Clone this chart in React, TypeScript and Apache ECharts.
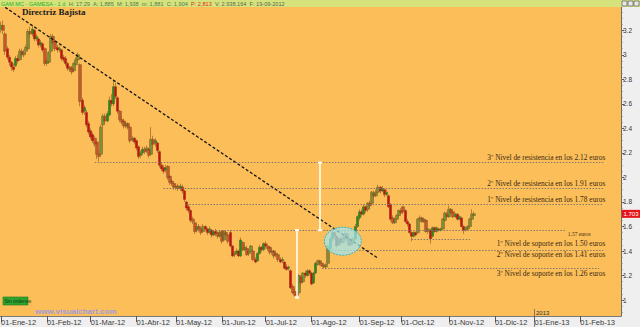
import React, { useEffect, useRef } from 'react';
import * as echarts from 'echarts';

// ---------- data ----------
const MONTHS = ['Ene', 'Feb', 'Mar', 'Abr', 'May', 'Jun', 'Jul', 'Ago', 'Sep', 'Oct', 'Nov', 'Dic'];
const HOLIDAYS = ['2012-04-06', '2012-04-09', '2012-05-01', '2012-12-25', '2012-12-26', '2013-01-01'];
const FIRST_DAY = '2012-01-02';
const LAST_DAY = '2013-02-28';

// daily candles [open, close, low, high]
const candles: number[][] = [
  [3.21, 3.24, 3.18, 3.27], [3.24, 3.20, 3.17, 3.28], [3.17, 3.03, 3.00, 3.19], [3.05, 2.98, 2.96, 3.07],
  [2.98, 2.94, 2.91, 3.00], [2.94, 2.90, 2.87, 2.95], [2.90, 2.88, 2.86, 2.93], [2.91, 2.97, 2.90, 2.99],
  [2.97, 2.95, 2.93, 3.00], [2.96, 3.03, 2.95, 3.05], [3.03, 3.00, 2.98, 3.05], [3.00, 3.02, 2.98, 3.04],
  [3.03, 3.06, 3.01, 3.08], [3.05, 3.19, 3.04, 3.21], [3.19, 3.17, 3.14, 3.23], [3.17, 3.21, 3.15, 3.24],
  [3.20, 3.13, 3.11, 3.21], [3.13, 3.15, 3.11, 3.17], [3.13, 3.08, 3.06, 3.14], [3.08, 3.10, 3.06, 3.12],
  [3.09, 3.04, 3.02, 3.10], [3.05, 2.93, 2.91, 3.06], [2.93, 2.95, 2.91, 2.97], [2.94, 3.02, 2.93, 3.03],
  [3.03, 3.15, 3.02, 3.17], [3.15, 3.10, 3.08, 3.17], [3.11, 3.05, 3.03, 3.12], [3.06, 3.04, 3.02, 3.08],
  [3.04, 3.05, 3.02, 3.07], [3.04, 2.97, 2.95, 3.05], [2.98, 2.96, 2.94, 3.00], [2.97, 2.93, 2.91, 2.99],
  [2.93, 2.89, 2.87, 2.94], [2.90, 2.88, 2.86, 2.91], [2.89, 2.86, 2.84, 2.91], [2.87, 2.93, 2.86, 2.94],
  [2.92, 2.96, 2.91, 2.98], [2.96, 3.00, 2.94, 3.02], [2.92, 2.62, 2.58, 2.93], [2.63, 2.53, 2.51, 2.65],
  [2.54, 2.57, 2.51, 2.59], [2.53, 2.43, 2.41, 2.55], [2.44, 2.37, 2.35, 2.46], [2.38, 2.33, 2.31, 2.40],
  [2.35, 2.30, 2.28, 2.37], [2.32, 2.27, 2.25, 2.34], [2.29, 2.19, 2.15, 2.30], [2.19, 2.17, 2.13, 2.22],
  [2.19, 2.41, 2.18, 2.43], [2.43, 2.50, 2.41, 2.52], [2.50, 2.46, 2.44, 2.52], [2.46, 2.52, 2.45, 2.54],
  [2.51, 2.63, 2.50, 2.66], [2.63, 2.60, 2.58, 2.68], [2.60, 2.74, 2.58, 2.80], [2.74, 2.66, 2.64, 2.77],
  [2.65, 2.54, 2.52, 2.66], [2.54, 2.47, 2.45, 2.55], [2.47, 2.45, 2.43, 2.50], [2.46, 2.42, 2.40, 2.48],
  [2.42, 2.44, 2.40, 2.46], [2.44, 2.41, 2.39, 2.45], [2.41, 2.30, 2.28, 2.42], [2.31, 2.32, 2.29, 2.34],
  [2.32, 2.29, 2.27, 2.33], [2.30, 2.24, 2.22, 2.31], [2.25, 2.17, 2.15, 2.26], [2.18, 2.20, 2.16, 2.22],
  [2.20, 2.23, 2.18, 2.25], [2.23, 2.21, 2.19, 2.25], [2.22, 2.24, 2.20, 2.26], [2.23, 2.18, 2.16, 2.24],
  [2.19, 2.31, 2.18, 2.41], [2.31, 2.27, 2.24, 2.34], [2.28, 2.30, 2.25, 2.32], [2.28, 2.22, 2.20, 2.29],
  [2.21, 2.10, 2.08, 2.22], [2.10, 2.07, 2.05, 2.12], [2.08, 2.05, 2.03, 2.10], [2.06, 2.08, 2.04, 2.10],
  [2.09, 2.00, 1.98, 2.10], [2.01, 1.96, 1.94, 2.02], [1.97, 1.95, 1.93, 1.99], [1.95, 1.92, 1.90, 1.96],
  [1.92, 1.93, 1.90, 1.95], [1.93, 1.91, 1.89, 1.95], [1.91, 1.93, 1.89, 1.95], [1.92, 1.89, 1.87, 1.94],
  [1.89, 1.82, 1.80, 1.90], [1.80, 1.75, 1.73, 1.81], [1.76, 1.73, 1.71, 1.78], [1.73, 1.65, 1.63, 1.74],
  [1.66, 1.64, 1.62, 1.68], [1.63, 1.56, 1.54, 1.64], [1.57, 1.60, 1.55, 1.62], [1.60, 1.58, 1.56, 1.62],
  [1.58, 1.55, 1.53, 1.59], [1.56, 1.60, 1.55, 1.62], [1.60, 1.58, 1.56, 1.61], [1.58, 1.55, 1.53, 1.59],
  [1.55, 1.58, 1.54, 1.60], [1.57, 1.53, 1.51, 1.58], [1.53, 1.56, 1.52, 1.57], [1.56, 1.54, 1.52, 1.58],
  [1.55, 1.52, 1.50, 1.56], [1.52, 1.55, 1.51, 1.57], [1.56, 1.48, 1.46, 1.57], [1.49, 1.56, 1.48, 1.57],
  [1.55, 1.53, 1.51, 1.57], [1.53, 1.48, 1.46, 1.54], [1.55, 1.44, 1.43, 1.57], [1.44, 1.36, 1.35, 1.45],
  [1.37, 1.38, 1.35, 1.40], [1.38, 1.40, 1.37, 1.42], [1.40, 1.36, 1.35, 1.41], [1.36, 1.49, 1.35, 1.51],
  [1.47, 1.41, 1.40, 1.48], [1.41, 1.43, 1.40, 1.45], [1.42, 1.37, 1.36, 1.44], [1.38, 1.40, 1.36, 1.42],
  [1.40, 1.44, 1.39, 1.45], [1.40, 1.33, 1.32, 1.41], [1.33, 1.31, 1.30, 1.35], [1.32, 1.38, 1.31, 1.39],
  [1.38, 1.43, 1.37, 1.45], [1.43, 1.41, 1.39, 1.44], [1.41, 1.46, 1.40, 1.47], [1.46, 1.44, 1.42, 1.48],
  [1.44, 1.42, 1.40, 1.46], [1.43, 1.39, 1.37, 1.44], [1.39, 1.40, 1.37, 1.42], [1.40, 1.36, 1.34, 1.41],
  [1.37, 1.38, 1.35, 1.40], [1.37, 1.33, 1.31, 1.38], [1.33, 1.31, 1.30, 1.35], [1.32, 1.33, 1.30, 1.35],
  [1.31, 1.26, 1.25, 1.32], [1.27, 1.25, 1.24, 1.29], [1.26, 1.27, 1.24, 1.28], [1.24, 1.10, 1.09, 1.25],
  [1.11, 1.06, 1.05, 1.13], [1.07, 1.04, 1.03, 1.09], [1.05, 1.04, 1.02, 1.07], [1.06, 1.20, 1.05, 1.21],
  [1.19, 1.14, 1.12, 1.20], [1.15, 1.22, 1.14, 1.23], [1.22, 1.20, 1.18, 1.24], [1.20, 1.24, 1.19, 1.25],
  [1.24, 1.22, 1.20, 1.25], [1.22, 1.13, 1.12, 1.23], [1.14, 1.22, 1.13, 1.23], [1.22, 1.30, 1.21, 1.31],
  [1.29, 1.32, 1.28, 1.33], [1.32, 1.30, 1.28, 1.33], [1.30, 1.28, 1.27, 1.31], [1.28, 1.27, 1.26, 1.29],
  [1.27, 1.29, 1.26, 1.30], [1.30, 1.44, 1.29, 1.45], [1.42, 1.50, 1.41, 1.52], [1.50, 1.55, 1.48, 1.57],
  [1.55, 1.52, 1.49, 1.56], [1.52, 1.44, 1.43, 1.53], [1.45, 1.50, 1.44, 1.51], [1.50, 1.47, 1.45, 1.52],
  [1.47, 1.50, 1.46, 1.52], [1.50, 1.54, 1.49, 1.56], [1.54, 1.50, 1.48, 1.55], [1.50, 1.45, 1.44, 1.51],
  [1.45, 1.47, 1.44, 1.49], [1.47, 1.50, 1.46, 1.51], [1.50, 1.60, 1.49, 1.62], [1.60, 1.68, 1.59, 1.69],
  [1.67, 1.72, 1.65, 1.74], [1.72, 1.70, 1.68, 1.74], [1.70, 1.76, 1.69, 1.78], [1.76, 1.73, 1.71, 1.77],
  [1.74, 1.79, 1.72, 1.80], [1.79, 1.77, 1.75, 1.81], [1.79, 1.88, 1.78, 1.89], [1.87, 1.85, 1.83, 1.89],
  [1.85, 1.88, 1.84, 1.90], [1.88, 1.92, 1.87, 1.94], [1.92, 1.89, 1.87, 1.93], [1.89, 1.91, 1.88, 1.93],
  [1.90, 1.86, 1.84, 1.91], [1.86, 1.88, 1.85, 1.90], [1.85, 1.76, 1.75, 1.86], [1.78, 1.66, 1.64, 1.79],
  [1.67, 1.63, 1.62, 1.69], [1.63, 1.66, 1.62, 1.67], [1.66, 1.69, 1.65, 1.70], [1.69, 1.73, 1.68, 1.74],
  [1.73, 1.71, 1.70, 1.75], [1.76, 1.72, 1.70, 1.77], [1.73, 1.64, 1.63, 1.74], [1.64, 1.62, 1.60, 1.66],
  [1.62, 1.55, 1.54, 1.63], [1.55, 1.52, 1.48, 1.56], [1.52, 1.55, 1.51, 1.56], [1.55, 1.53, 1.52, 1.56],
  [1.55, 1.66, 1.54, 1.67], [1.66, 1.67, 1.64, 1.69], [1.67, 1.64, 1.63, 1.68], [1.64, 1.66, 1.63, 1.67],
  [1.65, 1.56, 1.55, 1.66], [1.56, 1.58, 1.54, 1.59], [1.57, 1.50, 1.46, 1.58], [1.52, 1.59, 1.51, 1.60],
  [1.59, 1.56, 1.55, 1.60], [1.56, 1.59, 1.55, 1.60], [1.58, 1.57, 1.56, 1.59], [1.57, 1.58, 1.56, 1.59],
  [1.58, 1.66, 1.57, 1.67], [1.65, 1.71, 1.64, 1.72], [1.70, 1.68, 1.67, 1.72], [1.68, 1.74, 1.67, 1.77],
  [1.74, 1.71, 1.70, 1.75], [1.72, 1.68, 1.67, 1.73], [1.68, 1.70, 1.67, 1.71], [1.70, 1.66, 1.65, 1.71],
  [1.66, 1.68, 1.65, 1.69], [1.67, 1.60, 1.59, 1.68], [1.60, 1.57, 1.54, 1.61], [1.57, 1.59, 1.56, 1.60],
  [1.58, 1.60, 1.57, 1.61], [1.60, 1.66, 1.59, 1.67], [1.66, 1.70, 1.65, 1.74], [1.69, 1.703, 1.68, 1.72],
];

const yTickValues = [1, 1.2, 1.4, 1.6, 1.8, 2, 2.2, 2.4, 2.6, 2.8, 3, 3.2];

const levelValues = [2.12, 1.91, 1.78, 1.57, 1.5, 1.41, 1.26];
const levelStart = [45, 78, 89, 100, 197, 156, 154];
const levelEnd = [289, 289, 289, 271, 225, 289, 287];
const levelLabels = [
  '3º Nivel de resistencia en los 2.12 euros',
  '2º Nivel de resistencia en los 1.91 euros',
  '1º Nivel de resistencia en los 1.78 euros',
  '1.57 euros',
  '1º Nivel de soporte en los 1.50 euros',
  '2º Nivel de soporte en los 1.41 euros',
  '3º Nivel de soporte en los 1.26 euros',
];
const levelKind = ['res', 'res', 'res', 'small', 'sup', 'sup', 'sup'];

const trendStart: [number, number] = [2, 3.387];
const trendEnd: [number, number] = [181, 1.34];
const lowIdx = 142;
const lowValue = 1.02;
const necklineValue = 1.57;
const projIdx = 153;
const targetValue = 2.12;
const ellipseCenter: [number, number] = [164, 1.48];
const lastPrice = 1.703;

const headerParts = [
  { t: 'GAM.MC - GAMESA - 1 d', k: 'g' },
  { t: 'H: 17:29', k: 'n' },
  { t: 'A: 1,885', k: 'n' },
  { t: 'M: 1,938', k: 'n' },
  { t: 'm: 1,881', k: 'n' },
  { t: 'C: 1,904', k: 'n' },
  { t: 'P: 2,813', k: 'r' },
  { t: 'V: 2.938.164', k: 'd' },
  { t: 'F: 19-09-2012', k: 'd' },
];

// ---------- helpers ----------
function tradingDays(from: string, to: string): string[] {
  const out: string[] = [];
  const d = new Date(from + 'T00:00:00Z');
  const end = new Date(to + 'T00:00:00Z');
  while (d <= end) {
    const wd = d.getUTCDay();
    const s = d.toISOString().slice(0, 10);
    if (wd !== 0 && wd !== 6 && HOLIDAYS.indexOf(s) < 0) out.push(s);
    d.setUTCDate(d.getUTCDate() + 1);
  }
  return out;
}

const dates = tradingDays(FIRST_DAY, LAST_DAY);
const isMonthStart = (i: number) => i === 0 || (dates[i] && dates[i - 1] && dates[i].slice(5, 7) !== dates[i - 1].slice(5, 7));
const monthLabel = (s: string) => '01-' + MONTHS[parseInt(s.slice(5, 7), 10) - 1] + '-' + s.slice(2, 4);
const minorTicks: number[] = [];
for (let k = 18; k <= 67; k++) minorTicks.push(k * 0.05);

export default function App() {
  const ref = useRef<HTMLDivElement>(null);
  useEffect(() => {
    if (!ref.current) return;
    const chart = echarts.init(ref.current, null, { renderer: 'svg' });
    const dotted = { color: '#85766c', width: 1, type: [1.5, 1.5] as any };
    const levelLines = levelValues.map((v, i) => [
      { coord: [dates[levelStart[i]], v], lineStyle: dotted, symbol: 'none' },
      { coord: [dates[levelEnd[i]], v], symbol: 'none' },
    ]);
    const white = { color: '#ffffff', width: 1.5, type: 'solid' as const };
    const markData: any[] = [
      ...levelLines,
      [
        { coord: [dates[trendStart[0]], trendStart[1]], lineStyle: { color: '#141414', width: 1.3, type: [3, 2] }, symbol: 'none' },
        { coord: [dates[trendEnd[0]], trendEnd[1]], symbol: 'none' },
      ],
      [
        { coord: [dates[lowIdx], lowValue], lineStyle: white, symbol: 'rect', symbolSize: [4, 2] },
        { coord: [dates[lowIdx], necklineValue], symbol: 'rect', symbolSize: [4, 2] },
      ],
      [
        { coord: [dates[projIdx], necklineValue], lineStyle: white, symbol: 'rect', symbolSize: [4, 2] },
        { coord: [dates[projIdx], targetValue], symbol: 'rect', symbolSize: [4, 2] },
      ],
    ];

    chart.setOption({
      animation: false,
      backgroundColor: '#efefef',
      grid: {
        left: 0, right: 19, top: 7, bottom: 11, show: true,
        backgroundColor: '#fcbe59', borderWidth: 0, outerBoundsMode: 'none',
      },
      xAxis: {
        type: 'category',
        data: dates,
        boundaryGap: true,
        axisLine: { show: true, lineStyle: { color: '#7a7a7a', width: 1 } },
        axisTick: { show: true, interval: (i: number) => isMonthStart(i), alignWithLabel: true, length: 6, lineStyle: { color: '#555' } },
        axisLabel: {
          interval: (i: number) => isMonthStart(i),
          formatter: (s: string) => monthLabel(s),
          fontSize: 7.5, color: '#3a3a3a', align: 'left', margin: 2,
          fontFamily: '"Liberation Sans", Arial, sans-serif',
          hideOverlap: false,
        },
        splitLine: { show: false },
      },
      yAxis: [
        {
          type: 'value', position: 'right', min: 0.87, max: 3.39,
          axisLine: { show: true, lineStyle: { color: '#6a6a6a' } },
          axisTick: { show: true, length: 3, customValues: yTickValues, lineStyle: { color: '#555' } },
          axisLabel: {
            customValues: yTickValues,
            formatter: (v: number) => String(Math.round(v * 10) / 10),
            fontSize: 6.5, color: '#333', margin: 2,
            fontFamily: '"Liberation Sans", Arial, sans-serif',
          },
          splitLine: { show: false },
        },
        {
          type: 'value', position: 'right', min: 0.87, max: 3.39,
          axisLine: { show: false },
          axisTick: { show: true, length: 1.5, customValues: minorTicks, lineStyle: { color: '#777' } },
          axisLabel: { show: false },
          splitLine: { show: false },
        },
      ],
      series: [
        {
          type: 'candlestick',
          name: 'halo',
          data: candles,
          barWidth: 3,
          silent: true,
          itemStyle: {
            color: 'rgba(160,112,45,0.42)', color0: 'rgba(160,112,45,0.42)',
            borderColor: 'rgba(150,100,40,0.7)', borderColor0: 'rgba(150,100,40,0.7)', borderWidth: 1,
          },
        },
        {
          type: 'candlestick',
          name: 'GAMESA',
          data: candles,
          barWidth: 2,
          itemStyle: {
            color: '#1f8a1f', color0: '#c41010',
            borderColor: '#1f8a1f', borderColor0: '#c41010', borderWidth: 0,
          },
          markLine: { silent: true, animation: false, label: { show: false }, data: markData },
        },
      ],
    });

    const P = (i: number, v: number) =>
      chart.convertToPixel({ xAxisIndex: 0, yAxisIndex: 0 }, [dates[i], v]) as number[];

    const rightX = P(290, 2)[0];
    const serif = '"Liberation Serif", "DejaVu Serif", serif';
    const levelTexts = levelValues.map((v, i) => {
      const y = P(0, v)[1];
      if (levelKind[i] === 'small') {
        return {
          type: 'text', z: 120, x: P(levelEnd[i], v)[0] + 2, y: y + 4,
          style: { text: levelLabels[i], fill: '#3a2a12', font: '5.5px ' + serif, align: 'left', verticalAlign: 'middle' },
        };
      }
      return {
        type: 'text', z: 120, x: rightX, y: y + (levelKind[i] === 'res' ? -5 : 5),
        style: { text: levelLabels[i], fill: '#3a2a12', font: '7.4px ' + serif, align: 'right', verticalAlign: 'middle' },
      };
    });

    const ec = P(ellipseCenter[0], ellipseCenter[1]);
    const lp = P(0, lastPrice)[1];
    const y2013 = dates.indexOf('2013-01-02');
    const x2013 = P(y2013, 1)[0];
    const headerText = headerParts.map((h) => '{' + h.k + '|' + h.t + '}').join('  ');
    const hFont = { fontSize: 5.6, fontFamily: '"Liberation Sans", Arial, sans-serif' };

    chart.setOption({
      graphic: [
        {
          type: 'ellipse', z: 110,
          shape: { cx: ec[0], cy: ec[1], rx: 18.5, ry: 14 },
          style: { fill: 'rgba(160,232,242,0.72)', stroke: '#36b4c8', lineWidth: 1, lineDash: [2, 1] },
        },
        ...levelTexts,
        {
          type: 'text', z: 105, x: 22, y: 7.5,
          style: { text: 'Directriz Bajista', fill: '#1a1a1a', font: 'bold 9px ' + serif, align: 'left', verticalAlign: 'top' },
        },
        { type: 'rect', z: 130, shape: { x: 0, y: 0, width: 640, height: 7 }, style: { fill: '#d6e37c' } },
        {
          type: 'text', z: 131, x: 1, y: 3.6,
          style: {
            text: headerText, align: 'left', verticalAlign: 'middle', ...hFont,
            rich: {
              g: { fill: '#1fae1f', ...hFont },
              n: { fill: '#4f7a4f', ...hFont },
              r: { fill: '#e02a20', ...hFont },
              d: { fill: '#5a665a', ...hFont },
            },
          },
        },
        ...[622, 628, 634].map((x) => ({
          type: 'rect', z: 131, shape: { x, y: 1, width: 5, height: 5 },
          style: { fill: '#e8e8e8', stroke: '#6a6a6a', lineWidth: 0.8 },
        })),
        { type: 'rect', z: 120, shape: { x: 622, y: lp - 4, width: 18, height: 8 }, style: { fill: '#e8141c' } },
        {
          type: 'text', z: 121, x: 623.5, y: lp,
          style: { text: '1.703', fill: '#ffffff', font: '6px "Liberation Sans", Arial, sans-serif', align: 'left', verticalAlign: 'middle' },
        },
        { type: 'line', z: 120, shape: { x1: x2013, y1: 309, x2: x2013, y2: 327 }, style: { stroke: '#666', lineWidth: 0.8 } },
        {
          type: 'text', z: 121, x: x2013 + 1.5, y: 312.5,
          style: { text: '2013', fill: '#333', font: '6px "Liberation Sans", Arial, sans-serif', align: 'left', verticalAlign: 'middle' },
        },
        { type: 'rect', z: 120, shape: { x: 3, y: 297, width: 25, height: 8 }, style: { fill: '#2fa530', stroke: '#1d7a1d', lineWidth: 0.6 } },
        {
          type: 'text', z: 121, x: 4.5, y: 301,
          style: { text: 'Sin órdenes', fill: '#0d360d', font: '5px "Liberation Sans", Arial, sans-serif', align: 'left', verticalAlign: 'middle' },
        },
        {
          type: 'text', z: 121, x: 35, y: 311.5,
          style: { text: 'www.visualchart.com', fill: '#9c9ce0', font: 'bold 8px "Liberation Sans", Arial, sans-serif', align: 'left', verticalAlign: 'middle' },
        },
      ],
    });

    return () => chart.dispose();
  }, []);

  return <div ref={ref} style={{ position: 'fixed', left: 0, top: 0, width: 640, height: 327 }} />;
}
